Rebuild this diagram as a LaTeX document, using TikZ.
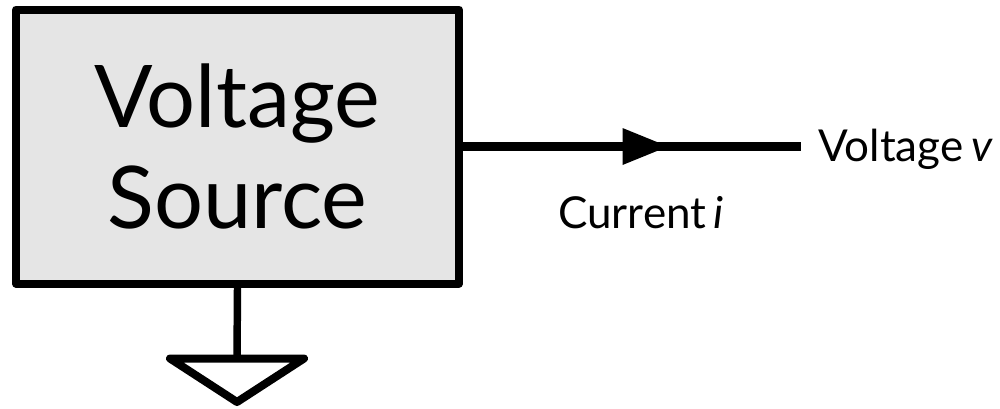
\documentclass[tikz,border=0pt]{standalone}
\usepackage{fontspec}
\setmainfont{Lato}
\newlength{\pxu}
\setlength{\pxu}{0.75pt}
\tikzset{
  wire/.style={line width=6.2pt,black,line cap=butt},
  srcbox/.style={draw=black,line width=6pt,fill=black!10,line join=round,inner sep=0pt,minimum width=443\pxu,minimum height=274\pxu,align=center,font=\fontsize{86.5\pxu}{101\pxu}\selectfont},
  lab/.style={inner sep=0pt,anchor=base west,font=\fontsize{44\pxu}{50\pxu}\selectfont}
}
\begin{document}
\begin{tikzpicture}[x=\pxu,y=-\pxu]
\useasboundingbox (0,0) rectangle (1000,408);
\node[srcbox] (src) at (237.5,146.5) {Voltage\\Source};
\coordinate (out) at (801,146.5);
\coordinate (gnd) at (237,358);
\coordinate (gl) at (170,358.5);
\coordinate (gr) at (304,358.5);
\coordinate (gb) at (237,402);
\draw[wire] (src.east) -- (out);
\fill[black] (622.5,128) -- (668,146.5) -- (622.5,165) -- cycle;
\draw[wire,line width=5.6pt] (src.south) -- (gnd);
\draw[line width=6pt,line join=round,fill=white] (gl) -- (gr) -- (gb) -- cycle;
\node[lab] (v) at (818,161.5) {Voltage\hspace{8\pxu}\textit{v}};
\node[lab] (i) at (558,228) {Current\hspace{7\pxu}\textit{i}};
\end{tikzpicture}
\end{document}
